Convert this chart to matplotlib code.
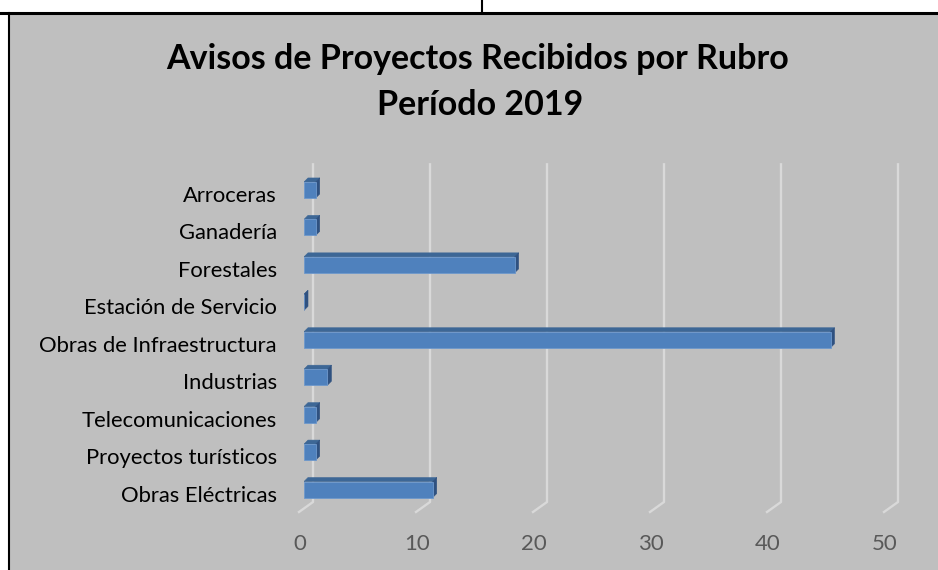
"""
Avisos de proyectos recibidos por rubro, periodo 2019.

Barras horizontales con efecto 3D (estilo grafico de Excel).
"""

import matplotlib

matplotlib.use("Agg")

import matplotlib.pyplot as plt
from matplotlib.collections import PolyCollection
from matplotlib.lines import Line2D
from matplotlib.patches import Rectangle
from matplotlib.transforms import ScaledTranslation, blended_transform_factory


RUBROS = [
    "Obras Eléctricas",
    "Proyectos turísticos",
    "Telecomunicaciones",
    "Industrias",
    "Obras de Infraestructura",
    "Estación de Servicio",
    "Forestales",
    "Ganadería",
    "Arroceras",
]
AVISOS = [11, 1, 1, 2, 45, 0, 18, 1, 1]
X_TICKS = [0, 10, 20, 30, 40, 50]
TITLE_LINES = ["Avisos de Proyectos Recibidos por Rubro", "Período 2019"]

FIG_W, FIG_H, DPI = 938, 570, 100

BG_GRAY = "#BFBFBF"
GRID = "#D9D9D9"
FRONT = "#4F81BD"
TOP = "#3D6796"
SIDE = "#2F5180"


def fx(px):
    return px / FIG_W


def fy(py):
    # py se mide desde arriba, como en la imagen
    return 1 - py / FIG_H


def draw_frame(fig):
    fig.add_artist(Rectangle((fx(10), 0), 1 - fx(10), fy(14),
                             transform=fig.transFigure, facecolor=BG_GRAY,
                             edgecolor="none", zorder=-10))
    fig.add_artist(Line2D([0, 1], [fy(12.5), fy(12.5)], transform=fig.transFigure,
                          color="black", lw=2.2))
    fig.add_artist(Line2D([fx(9), fx(9)], [0, fy(13)], transform=fig.transFigure,
                          color="black", lw=1.5))
    fig.add_artist(Line2D([fx(482), fx(482)], [fy(11), 1], transform=fig.transFigure,
                          color="black", lw=1.5))


def draw_bars(fig, ax):
    ux = ax.transData.transform((1, 0))[0] - ax.transData.transform((0, 0))[0]
    uy = ax.transData.transform((0, 1))[1] - ax.transData.transform((0, 0))[1]

    # lineas de division en la pared del fondo, con el quiebre hacia el piso
    trans = blended_transform_factory(ax.transData, ax.transAxes)
    for v in X_TICKS:
        ax.plot([v + 9 / ux, v + 9 / ux, v - 5 / ux], [0.988, 0.0487, 0.0209],
                transform=trans, color=GRID, lw=1.7, zorder=1, clip_on=False)

    h = 16 / uy
    dx, dy = 4 / ux, 4 / uy
    pos = list(range(len(RUBROS)))

    top_faces, side_faces = [], []
    for y, v in zip(pos, AVISOS):
        top_faces.append([(0, y + h / 2), (v, y + h / 2),
                          (v + dx, y + h / 2 + dy), (dx, y + h / 2 + dy)])
        side_faces.append([(v, y - h / 2), (v, y + h / 2),
                           (v + dx, y + h / 2 + dy), (v + dx, y - h / 2 + dy)])

    ax.add_collection(PolyCollection(top_faces, facecolors=TOP, edgecolors=TOP,
                                     linewidths=0.4, zorder=3))
    ax.add_collection(PolyCollection(side_faces, facecolors=SIDE, edgecolors=SIDE,
                                     linewidths=0.4, zorder=3))
    ax.barh(pos, AVISOS, height=h, left=0, color=FRONT, edgecolor="#6E98CC",
            linewidth=0.6, zorder=4)

    ax.set_yticks(pos, RUBROS)
    ax.tick_params(axis="y", length=0, pad=19.5, labelsize=15.8, labelcolor="black")
    for lbl in ax.get_yticklabels():
        lbl.set_transform(lbl.get_transform()
                          + ScaledTranslation(0, -4 / DPI, fig.dpi_scale_trans))

    ax.set_xticks(X_TICKS)
    ax.tick_params(axis="x", length=0, pad=10.5, labelsize=16, labelcolor="#595959")
    for lbl in ax.get_xticklabels():
        lbl.set_transform(lbl.get_transform()
                          + ScaledTranslation(-4 / DPI, 0, fig.dpi_scale_trans))


def main():
    plt.rcParams["font.family"] = ["Lato", "DejaVu Sans"]

    fig = plt.figure(figsize=(FIG_W / DPI, FIG_H / DPI), dpi=DPI)
    fig.patch.set_facecolor("white")
    draw_frame(fig)

    left, right, top, bottom = 304, 900.7, 160, 519.5
    ax = fig.add_axes([fx(left), fy(bottom), (right - left) / FIG_W, (bottom - top) / FIG_H])
    ax.set_xlim(0, 51)
    ax.set_ylim(-0.8, 8.8)
    ax.set_facecolor("none")
    for s in ax.spines.values():
        s.set_visible(False)

    draw_bars(fig, ax)

    fig.text(fx(478), fy(69), TITLE_LINES[0], ha="center", va="baseline",
             fontsize=24.5, fontweight="bold")
    fig.text(fx(480), fy(115), TITLE_LINES[1], ha="center", va="baseline",
             fontsize=24.5, fontweight="bold")

    fig.savefig("out.png", dpi=DPI)
    plt.close(fig)


if __name__ == "__main__":
    main()
